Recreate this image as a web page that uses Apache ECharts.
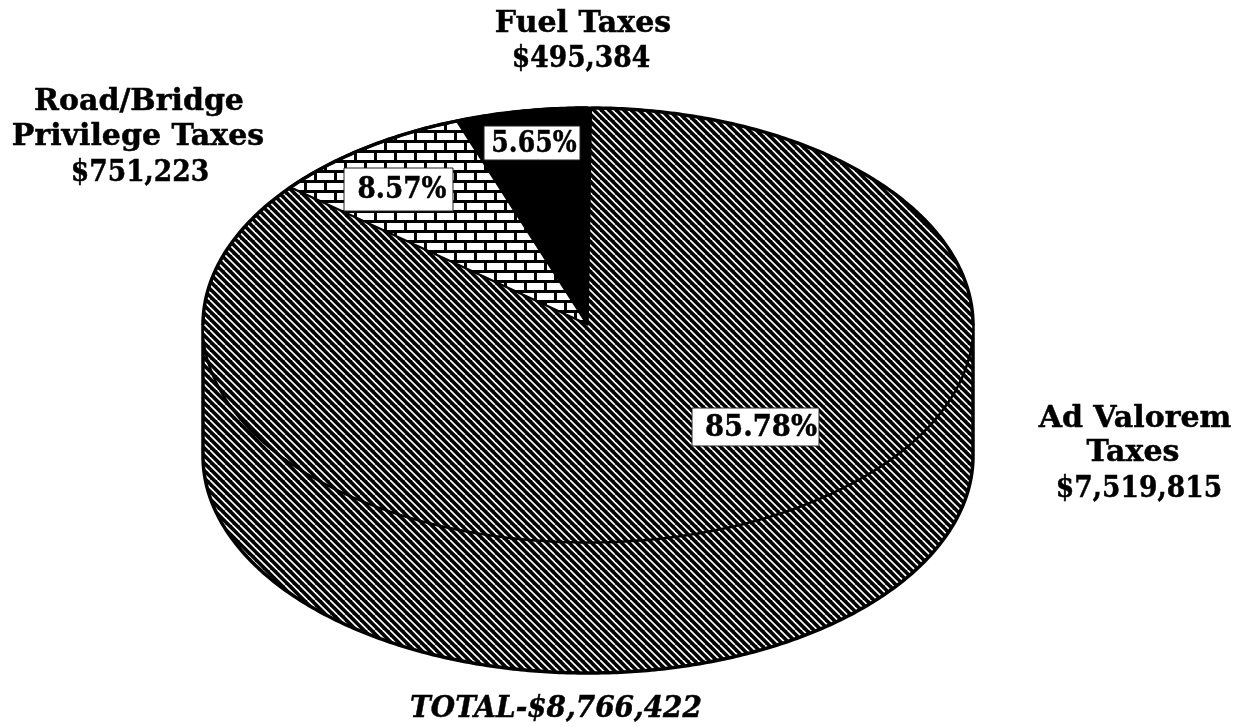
<!DOCTYPE html>
<html>
<head>
<meta charset="utf-8">
<style>html,body{margin:0;padding:0;background:#fff}#c{width:1252px;height:727px}</style>
<script src="https://cdn.jsdelivr.net/npm/echarts@6/dist/echarts.min.js"></script>
</head>
<body>
<div id="c"></div>
<script>
const categories = ['Fuel Taxes', 'Road/Bridge Privilege Taxes', 'Ad Valorem Taxes'];
const values = [495384, 751223, 7519815];
const percentLabels = ['5.65%', '8.57%', '85.78%'];
const amountLabels = ['$495,384', '$751,223', '$7,519,815'];
const totalLabel = 'TOTAL-$8,766,422';

const FONT = '"DejaVu Serif", serif';
const CX = 588, CY = 325, RX = 385, RY = 217, DEPTH = 131;
const START = -0.5 * Math.PI / 180;

function hatch() {
  const s = 15, c = document.createElement('canvas');
  c.width = c.height = s;
  const g = c.getContext('2d');
  g.fillStyle = '#000'; g.fillRect(0, 0, s, s);
  g.strokeStyle = '#fff'; g.lineWidth = 1.65;
  for (let i = -s; i <= s; i += s / 2) {
    g.beginPath(); g.moveTo(i, 0); g.lineTo(i + s, s); g.stroke();
  }
  return { image: c, repeat: 'repeat' };
}
function brick() {
  const w = 40, h = 20, c = document.createElement('canvas');
  c.width = w; c.height = h;
  const g = c.getContext('2d');
  g.fillStyle = '#fff'; g.fillRect(0, 0, w, h);
  g.fillStyle = '#000';
  g.fillRect(0, 0, w, 3); g.fillRect(0, 10, w, 3);
  g.fillRect(4, 0, 3, 10); g.fillRect(24, 0, 3, 10);
  g.fillRect(14, 10, 3, 10); g.fillRect(34, 10, 3, 10);
  return { image: c, repeat: 'repeat' };
}
const fills = ['#000', brick(), hatch()];

function pt(a, dy) { // a: angle from 12 o'clock, going counter-clockwise
  return [CX - RX * Math.sin(a), CY - RY * Math.cos(a) + (dy || 0)];
}
function arc(a0, a1, dy) {
  const n = Math.max(2, Math.ceil(Math.abs(a1 - a0) / 0.01)), out = [];
  for (let i = 0; i <= n; i++) out.push(pt(a0 + (a1 - a0) * i / n, dy));
  return out;
}
const total = values.reduce((a, b) => a + b, 0);

function renderItem(params, api) {
  const i = params.dataIndex;
  let start = 0;
  for (let k = 0; k < i; k++) start += values[k];
  const a0 = START + start / total * 2 * Math.PI;
  const a1 = START + (start + api.value(0)) / total * 2 * Math.PI;
  const children = [];
  const outline = { stroke: '#000', lineWidth: 3.5, fill: null, lineJoin: 'round' };
  // side wall: the visible front half of the slice rim
  const f0 = Math.max(a0, Math.PI / 2), f1 = Math.min(a1, Math.PI * 3 / 2);
  if (f1 > f0) {
    const wall = arc(f0, f1, 0).concat(arc(f1, f0, DEPTH));
    children.push({ type: 'polygon', shape: { points: wall },
      style: { fill: fills[i], stroke: '#000', lineWidth: 3.5, lineJoin: 'round' } });
  }
  const top = [[CX, CY]].concat(arc(a0, a1, 0));
  children.push({ type: 'polygon', shape: { points: top },
    style: { fill: fills[i], stroke: '#000', lineWidth: i === 2 ? 1.5 : 3, lineJoin: 'round' } });
  // heavy silhouette along the back rim of the slice
  const b0 = Math.max(a0, 0), b1 = Math.min(a1, Math.PI / 2);
  if (b1 > b0) children.push({ type: 'polyline', shape: { points: arc(b0, b1, 0) }, style: outline });
  const c0 = Math.max(a0, Math.PI * 3 / 2), c1 = Math.min(a1, 2 * Math.PI + START);
  if (c1 > c0) children.push({ type: 'polyline', shape: { points: arc(c0, c1, 0) }, style: outline });
  return { type: 'group', children };
}

function txt(t, x, y, size, sx, extra, z) {
  return {
    type: 'text', x, y, z: z || 20, scaleX: sx,
    style: { text: t, fill: '#000', stroke: '#000', lineWidth: 0.5,
      font: (extra || '') + ' bold ' + size + 'px ' + FONT, textAlign: 'center', textVerticalAlign: 'middle' }
  };
}
function boxLabel(text, x0, y0, x1, y1, tx, sx) {
  return [
    { type: 'rect', z: 18, shape: { x: x0, y: y0, width: x1 - x0, height: y1 - y0 },
      style: { fill: '#fff', stroke: '#222', lineWidth: 1 } },
    txt(text, tx, (y0 + y1) / 2 + 1, 30, sx, '', 19)
  ];
}

const graphics = [
  txt('Fuel Taxes', 583, 24, 30, 1),
  txt(amountLabels[0], 581, 59, 30, 0.885),
  txt('Road/Bridge', 139, 102, 30, 1),
  txt('Privilege Taxes', 138, 137, 30, 1),
  txt(amountLabels[1], 140, 173, 30, 0.885),
  txt('Ad Valorem', 1135, 419, 30, 1),
  txt('Taxes', 1133, 453, 30, 1),
  txt(amountLabels[2], 1139, 489, 30, 0.885),
  ...boxLabel(percentLabels[0], 484, 126, 580, 160, 534, 0.84),
  ...boxLabel(percentLabels[1], 344, 168, 453, 211, 402, 0.875),
  ...boxLabel(percentLabels[2], 692, 408, 819, 446, 761, 0.915),
  txt(totalLabel, 556, 709, 30, 0.93, 'italic')
];

const chart = echarts.init(document.getElementById('c'), null, { renderer: 'canvas' });
chart.setOption({
  animation: false,
  backgroundColor: '#fff',
  graphic: { elements: graphics },
  series: [{
    type: 'custom',
    coordinateSystem: 'none',
    silent: true,
    renderItem,
    data: values.map((v, i) => ({ name: categories[i], value: [v] }))
  }]
});
</script>
</body>
</html>
